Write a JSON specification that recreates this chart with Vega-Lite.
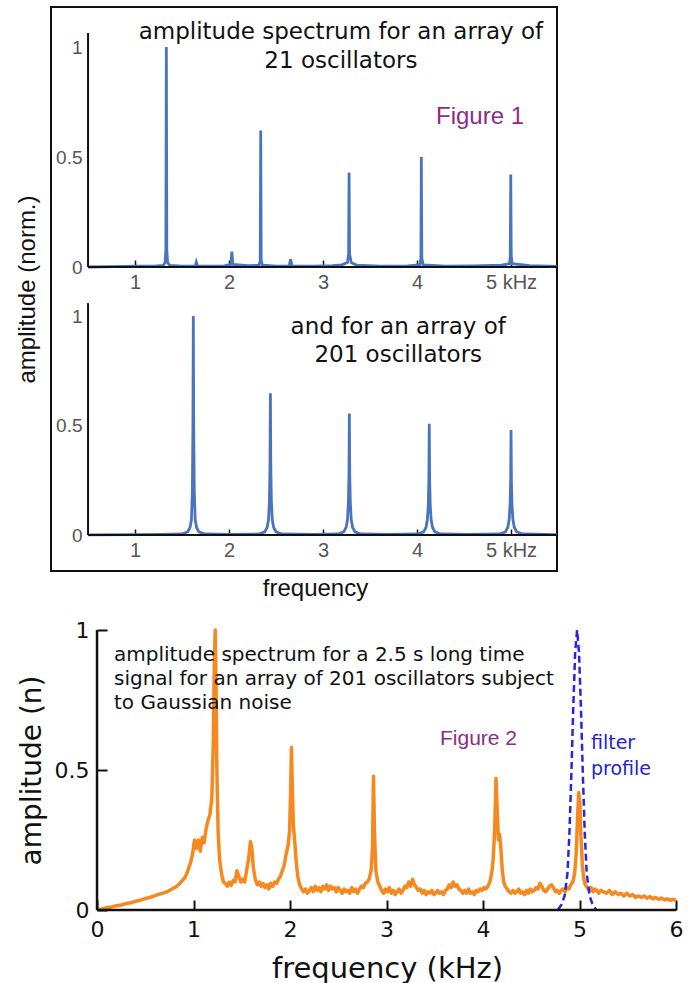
{
"$schema": "https://vega.github.io/schema/vega-lite/v6.json",
"background": "white",
"padding": {"left": 14, "top": 6, "right": 5, "bottom": 5},
"spacing": 18,
"config": {"view": {"stroke": null}, "axis": {"grid": false, "format": ".1~f"}},
"datasets": {
"p1": [{"f":0.5,"a":0.0},{"f":0.9,"a":0.003},{"f":0.99,"a":0.004},{"f":1.2,"a":0.004},{"f":1.3,"a":0.007},{"f":1.32,"a":0.02},{"f":1.328,"a":0.08},{"f":1.333,"a":1.0},{"f":1.338,"a":0.08},{"f":1.346,"a":0.02},{"f":1.37,"a":0.007},{"f":1.5,"a":0.004},{"f":1.64,"a":0.004},{"f":1.652,"a":0.022},{"f":1.664,"a":0.004},{"f":1.95,"a":0.005},{"f":2.02,"a":0.012},{"f":2.03,"a":0.07},{"f":2.04,"a":0.012},{"f":2.2,"a":0.006},{"f":2.32,"a":0.008},{"f":2.332,"a":0.03},{"f":2.337,"a":0.62},{"f":2.342,"a":0.03},{"f":2.355,"a":0.008},{"f":2.5,"a":0.004},{"f":2.64,"a":0.005},{"f":2.655,"a":0.035},{"f":2.67,"a":0.005},{"f":2.9,"a":0.004},{"f":3.1,"a":0.006},{"f":3.2,"a":0.01},{"f":3.26,"a":0.02},{"f":3.272,"a":0.06},{"f":3.277,"a":0.43},{"f":3.282,"a":0.06},{"f":3.3,"a":0.02},{"f":3.36,"a":0.008},{"f":3.6,"a":0.004},{"f":3.9,"a":0.005},{"f":4.03,"a":0.01},{"f":4.041,"a":0.04},{"f":4.046,"a":0.5},{"f":4.051,"a":0.04},{"f":4.065,"a":0.01},{"f":4.3,"a":0.004},{"f":4.6,"a":0.005},{"f":4.9,"a":0.008},{"f":4.985,"a":0.015},{"f":4.992,"a":0.05},{"f":4.997,"a":0.42},{"f":5.002,"a":0.05},{"f":5.012,"a":0.015},{"f":5.2,"a":0.006},{"f":5.489,"a":0.003}],
"p2": [{"f":0.5,"a":0.001},{"f":1.0,"a":0.002},{"f":1.3,"a":0.003},{"f":1.5,"a":0.005},{"f":1.56,"a":0.015},{"f":1.585,"a":0.035},{"f":1.6,"a":0.07},{"f":1.61,"a":0.2},{"f":1.616,"a":0.5},{"f":1.62,"a":1.0},{"f":1.624,"a":0.5},{"f":1.63,"a":0.2},{"f":1.64,"a":0.07},{"f":1.655,"a":0.035},{"f":1.68,"a":0.015},{"f":1.74,"a":0.005},{"f":2.0,"a":0.003},{"f":2.32,"a":0.005},{"f":2.38,"a":0.015},{"f":2.405,"a":0.035},{"f":2.42,"a":0.07},{"f":2.43,"a":0.16},{"f":2.436,"a":0.33},{"f":2.44,"a":0.647},{"f":2.444,"a":0.33},{"f":2.45,"a":0.16},{"f":2.46,"a":0.07},{"f":2.475,"a":0.035},{"f":2.5,"a":0.015},{"f":2.56,"a":0.005},{"f":2.9,"a":0.003},{"f":3.16,"a":0.005},{"f":3.22,"a":0.015},{"f":3.245,"a":0.035},{"f":3.26,"a":0.07},{"f":3.27,"a":0.15},{"f":3.276,"a":0.28},{"f":3.28,"a":0.555},{"f":3.284,"a":0.28},{"f":3.29,"a":0.15},{"f":3.3,"a":0.07},{"f":3.315,"a":0.035},{"f":3.34,"a":0.015},{"f":3.4,"a":0.005},{"f":3.7,"a":0.003},{"f":4.01,"a":0.005},{"f":4.07,"a":0.015},{"f":4.095,"a":0.035},{"f":4.11,"a":0.07},{"f":4.12,"a":0.14},{"f":4.126,"a":0.26},{"f":4.13,"a":0.508},{"f":4.134,"a":0.26},{"f":4.14,"a":0.14},{"f":4.15,"a":0.07},{"f":4.165,"a":0.035},{"f":4.19,"a":0.015},{"f":4.25,"a":0.005},{"f":4.55,"a":0.003},{"f":4.88,"a":0.005},{"f":4.94,"a":0.015},{"f":4.965,"a":0.035},{"f":4.98,"a":0.07},{"f":4.99,"a":0.14},{"f":4.996,"a":0.25},{"f":5.0,"a":0.48},{"f":5.004,"a":0.25},{"f":5.01,"a":0.14},{"f":5.02,"a":0.07},{"f":5.035,"a":0.035},{"f":5.06,"a":0.015},{"f":5.12,"a":0.005},{"f":5.489,"a":0.002}],
"spec": [{"f":0,"a":0.002},{"f":0.05,"a":0.004},{"f":0.1,"a":0.008},{"f":0.15,"a":0.011},{"f":0.2,"a":0.015},{"f":0.25,"a":0.018},{"f":0.3,"a":0.023},{"f":0.35,"a":0.026},{"f":0.4,"a":0.031},{"f":0.45,"a":0.035},{"f":0.5,"a":0.041},{"f":0.55,"a":0.045},{"f":0.6,"a":0.051},{"f":0.63,"a":0.055},{"f":0.66,"a":0.058},{"f":0.7,"a":0.062},{"f":0.73,"a":0.066},{"f":0.76,"a":0.071},{"f":0.79,"a":0.078},{"f":0.82,"a":0.083},{"f":0.85,"a":0.092},{"f":0.87,"a":0.1},{"f":0.89,"a":0.108},{"f":0.91,"a":0.115},{"f":0.93,"a":0.13},{"f":0.95,"a":0.15},{"f":0.97,"a":0.17},{"f":0.99,"a":0.2},{"f":1.01,"a":0.25},{"f":1.03,"a":0.22},{"f":1.05,"a":0.25},{"f":1.07,"a":0.21},{"f":1.09,"a":0.26},{"f":1.11,"a":0.24},{"f":1.13,"a":0.29},{"f":1.15,"a":0.32},{"f":1.17,"a":0.34},{"f":1.19,"a":0.4},{"f":1.205,"a":0.6},{"f":1.215,"a":0.88},{"f":1.225,"a":1.0},{"f":1.233,"a":0.82},{"f":1.242,"a":0.5},{"f":1.255,"a":0.28},{"f":1.27,"a":0.18},{"f":1.29,"a":0.13},{"f":1.31,"a":0.1},{"f":1.33,"a":0.095},{"f":1.35,"a":0.085},{"f":1.37,"a":0.1},{"f":1.39,"a":0.088},{"f":1.41,"a":0.105},{"f":1.43,"a":0.1},{"f":1.45,"a":0.14},{"f":1.47,"a":0.12},{"f":1.49,"a":0.1},{"f":1.51,"a":0.11},{"f":1.53,"a":0.1},{"f":1.55,"a":0.14},{"f":1.57,"a":0.18},{"f":1.59,"a":0.245},{"f":1.605,"a":0.22},{"f":1.62,"a":0.15},{"f":1.64,"a":0.11},{"f":1.66,"a":0.09},{"f":1.68,"a":0.1},{"f":1.7,"a":0.085},{"f":1.72,"a":0.095},{"f":1.74,"a":0.08},{"f":1.76,"a":0.09},{"f":1.78,"a":0.075},{"f":1.8,"a":0.095},{"f":1.82,"a":0.085},{"f":1.84,"a":0.1},{"f":1.86,"a":0.095},{"f":1.88,"a":0.11},{"f":1.9,"a":0.12},{"f":1.92,"a":0.14},{"f":1.94,"a":0.16},{"f":1.96,"a":0.2},{"f":1.98,"a":0.23},{"f":1.995,"a":0.28},{"f":2.005,"a":0.4},{"f":2.015,"a":0.58},{"f":2.025,"a":0.42},{"f":2.035,"a":0.3},{"f":2.05,"a":0.24},{"f":2.065,"a":0.17},{"f":2.08,"a":0.12},{"f":2.1,"a":0.09},{"f":2.12,"a":0.075},{"f":2.14,"a":0.065},{"f":2.16,"a":0.075},{"f":2.18,"a":0.06},{"f":2.2,"a":0.07},{"f":2.22,"a":0.08},{"f":2.24,"a":0.065},{"f":2.26,"a":0.085},{"f":2.28,"a":0.07},{"f":2.3,"a":0.08},{"f":2.32,"a":0.065},{"f":2.34,"a":0.085},{"f":2.36,"a":0.075},{"f":2.38,"a":0.09},{"f":2.4,"a":0.07},{"f":2.42,"a":0.085},{"f":2.44,"a":0.075},{"f":2.46,"a":0.08},{"f":2.48,"a":0.065},{"f":2.5,"a":0.08},{"f":2.52,"a":0.07},{"f":2.54,"a":0.06},{"f":2.56,"a":0.075},{"f":2.58,"a":0.065},{"f":2.6,"a":0.07},{"f":2.62,"a":0.06},{"f":2.64,"a":0.08},{"f":2.66,"a":0.065},{"f":2.68,"a":0.075},{"f":2.7,"a":0.06},{"f":2.72,"a":0.075},{"f":2.74,"a":0.085},{"f":2.76,"a":0.08},{"f":2.78,"a":0.095},{"f":2.8,"a":0.1},{"f":2.82,"a":0.11},{"f":2.84,"a":0.14},{"f":2.855,"a":0.22},{"f":2.865,"a":0.478},{"f":2.875,"a":0.28},{"f":2.89,"a":0.14},{"f":2.91,"a":0.1},{"f":2.93,"a":0.085},{"f":2.95,"a":0.07},{"f":2.97,"a":0.06},{"f":2.99,"a":0.075},{"f":3.01,"a":0.065},{"f":3.03,"a":0.08},{"f":3.05,"a":0.06},{"f":3.07,"a":0.07},{"f":3.09,"a":0.055},{"f":3.11,"a":0.065},{"f":3.13,"a":0.075},{"f":3.15,"a":0.06},{"f":3.17,"a":0.07},{"f":3.19,"a":0.085},{"f":3.21,"a":0.08},{"f":3.23,"a":0.1},{"f":3.25,"a":0.085},{"f":3.27,"a":0.11},{"f":3.29,"a":0.09},{"f":3.31,"a":0.08},{"f":3.33,"a":0.07},{"f":3.35,"a":0.075},{"f":3.37,"a":0.06},{"f":3.39,"a":0.07},{"f":3.41,"a":0.055},{"f":3.43,"a":0.065},{"f":3.45,"a":0.06},{"f":3.47,"a":0.07},{"f":3.49,"a":0.055},{"f":3.51,"a":0.06},{"f":3.53,"a":0.07},{"f":3.55,"a":0.06},{"f":3.57,"a":0.065},{"f":3.59,"a":0.055},{"f":3.61,"a":0.07},{"f":3.63,"a":0.075},{"f":3.65,"a":0.09},{"f":3.67,"a":0.08},{"f":3.69,"a":0.1},{"f":3.71,"a":0.085},{"f":3.73,"a":0.09},{"f":3.75,"a":0.075},{"f":3.77,"a":0.07},{"f":3.79,"a":0.06},{"f":3.81,"a":0.07},{"f":3.83,"a":0.06},{"f":3.85,"a":0.075},{"f":3.87,"a":0.06},{"f":3.89,"a":0.065},{"f":3.91,"a":0.055},{"f":3.93,"a":0.07},{"f":3.95,"a":0.065},{"f":3.97,"a":0.075},{"f":3.99,"a":0.07},{"f":4.01,"a":0.08},{"f":4.03,"a":0.075},{"f":4.05,"a":0.085},{"f":4.07,"a":0.1},{"f":4.09,"a":0.13},{"f":4.105,"a":0.18},{"f":4.12,"a":0.28},{"f":4.135,"a":0.47},{"f":4.148,"a":0.35},{"f":4.16,"a":0.25},{"f":4.172,"a":0.27},{"f":4.185,"a":0.22},{"f":4.2,"a":0.14},{"f":4.215,"a":0.1},{"f":4.23,"a":0.085},{"f":4.25,"a":0.075},{"f":4.27,"a":0.065},{"f":4.29,"a":0.06},{"f":4.31,"a":0.07},{"f":4.33,"a":0.06},{"f":4.35,"a":0.065},{"f":4.37,"a":0.075},{"f":4.39,"a":0.06},{"f":4.41,"a":0.065},{"f":4.43,"a":0.055},{"f":4.45,"a":0.07},{"f":4.47,"a":0.06},{"f":4.49,"a":0.075},{"f":4.51,"a":0.065},{"f":4.53,"a":0.07},{"f":4.55,"a":0.08},{"f":4.57,"a":0.075},{"f":4.59,"a":0.095},{"f":4.61,"a":0.085},{"f":4.63,"a":0.07},{"f":4.65,"a":0.065},{"f":4.67,"a":0.075},{"f":4.69,"a":0.085},{"f":4.71,"a":0.09},{"f":4.73,"a":0.08},{"f":4.75,"a":0.065},{"f":4.77,"a":0.07},{"f":4.79,"a":0.06},{"f":4.81,"a":0.07},{"f":4.83,"a":0.075},{"f":4.85,"a":0.065},{"f":4.87,"a":0.08},{"f":4.89,"a":0.075},{"f":4.91,"a":0.09},{"f":4.93,"a":0.1},{"f":4.95,"a":0.13},{"f":4.965,"a":0.2},{"f":4.98,"a":0.33},{"f":4.992,"a":0.42},{"f":5.004,"a":0.38},{"f":5.015,"a":0.26},{"f":5.03,"a":0.16},{"f":5.045,"a":0.11},{"f":5.06,"a":0.09},{"f":5.08,"a":0.08},{"f":5.1,"a":0.07},{"f":5.12,"a":0.08},{"f":5.14,"a":0.065},{"f":5.16,"a":0.075},{"f":5.18,"a":0.07},{"f":5.2,"a":0.06},{"f":5.22,"a":0.07},{"f":5.25,"a":0.065},{"f":5.28,"a":0.06},{"f":5.31,"a":0.07},{"f":5.34,"a":0.055},{"f":5.37,"a":0.065},{"f":5.4,"a":0.055},{"f":5.43,"a":0.06},{"f":5.46,"a":0.05},{"f":5.49,"a":0.06},{"f":5.52,"a":0.05},{"f":5.55,"a":0.055},{"f":5.58,"a":0.045},{"f":5.61,"a":0.05},{"f":5.64,"a":0.045},{"f":5.67,"a":0.05},{"f":5.7,"a":0.042},{"f":5.73,"a":0.048},{"f":5.76,"a":0.04},{"f":5.79,"a":0.045},{"f":5.82,"a":0.038},{"f":5.85,"a":0.043},{"f":5.88,"a":0.036},{"f":5.91,"a":0.04},{"f":5.94,"a":0.035},{"f":5.97,"a":0.038},{"f":6.0,"a":0.034}],
"filt": [{"f":4.775,"a":0.0},{"f":4.815,"a":0.02},{"f":4.845,"a":0.05},{"f":4.875,"a":0.13},{"f":4.895,"a":0.27},{"f":4.915,"a":0.48},{"f":4.935,"a":0.72},{"f":4.955,"a":0.92},{"f":4.975,"a":1.0},{"f":4.995,"a":0.92},{"f":5.015,"a":0.72},{"f":5.035,"a":0.48},{"f":5.055,"a":0.27},{"f":5.075,"a":0.13},{"f":5.105,"a":0.05},{"f":5.135,"a":0.02},{"f":5.175,"a":0.0}]
},
"vconcat": [
{
"width": 506, "height": 564,
"view": {"stroke": "#111", "strokeWidth": 2},
"layer": [
 {
 "layer": [
  {"data": {"name": "p1"},
   "mark": {"type": "line", "color": "#4a74bb", "strokeWidth": 2.8},
   "encoding": {
    "x": {"field": "f", "type": "quantitative", "scale": {"domain": [0.106, 5.489], "nice": false, "zero": false},
     "axis": {"orient": "bottom", "offset": -304, "values": [1,2,3,4,5], "format": ".1~f", "labelExpr": "datum.value == 5 ? '5 kHz' : datum.label", "domain": false, "tickSize": -7, "tickColor": "#111", "tickWidth": 1.5, "labelPadding": 12, "labelFont": "Liberation Sans", "labelFontSize": 20, "labelColor": "#555", "labelFlush": false, "labelOverlap": false, "title": null}},
    "y": {"field": "a", "type": "quantitative", "scale": {"domain": [-1.382, 1.182], "nice": false, "zero": false},
     "axis": {"orient": "left", "offset": -37, "values": [0, 0.5, 1], "format": ".1~f", "domain": false, "ticks": false, "labelPadding": 6, "labelFont": "Liberation Sans", "labelFontSize": 19, "labelColor": "#555", "labelFlush": false, "labelOverlap": false, "title": "amplitude (norm.)", "titleFont": "Liberation Sans", "titleFontSize": 24, "titleFontWeight": "normal", "titleColor": "#111", "titleX": -61, "titleBaseline": "middle"}}
   }},
  {"data": {"values": [{}]}, "mark": {"type": "rule", "color": "#111", "strokeWidth": 2},
   "encoding": {"x": {"datum": 0.5}, "y": {"datum": 0}, "y2": {"datum": 1.064}}},
  {"data": {"values": [{}]}, "mark": {"type": "rule", "color": "#111", "strokeWidth": 2},
   "encoding": {"x": {"datum": 0.5}, "x2": {"datum": 5.489}, "y": {"datum": 0}}},
  {"data": {"values": [{}]}, "mark": {"type": "text", "text": ["amplitude spectrum for an array of", "21 oscillators"], "font": "DejaVu Sans", "fontSize": 23, "lineHeight": 29, "align": "center", "baseline": "top", "color": "#111"},
   "encoding": {"x": {"datum": 3.19}, "y": {"datum": 1.118}}},
  {"data": {"values": [{}]}, "mark": {"type": "text", "text": "Figure 1", "font": "Liberation Sans", "fontSize": 24, "align": "center", "baseline": "middle", "color": "#8b2c86"},
   "encoding": {"x": {"datum": 4.67}, "y": {"datum": 0.682}}}
 ]
 },
 {
 "layer": [
  {"data": {"name": "p2"},
   "mark": {"type": "line", "color": "#4a74bb", "strokeWidth": 2.8},
   "encoding": {
    "x": {"field": "f", "type": "quantitative", "scale": {"domain": [0.106, 5.489], "nice": false, "zero": false},
     "axis": {"orient": "bottom", "offset": -36, "values": [1,2,3,4,5], "format": ".1~f", "labelExpr": "datum.value == 5 ? '5 kHz' : datum.label", "domain": false, "tickSize": -6, "tickColor": "#111", "tickWidth": 1.5, "labelPadding": 11, "labelFont": "Liberation Sans", "labelFontSize": 20, "labelColor": "#555", "labelFlush": false, "labelOverlap": false, "title": "frequency", "titleFont": "Liberation Sans", "titleFontSize": 24, "titleFontWeight": "normal", "titleColor": "#111", "titleX": 264, "titleY": 53, "titleBaseline": "middle"}},
    "y": {"field": "a", "type": "quantitative", "scale": {"domain": [-0.164, 2.411], "nice": false, "zero": false},
     "axis": {"orient": "left", "offset": -37, "values": [0, 0.5, 1], "format": ".1~f", "domain": false, "ticks": false, "labelPadding": 6, "labelFont": "Liberation Sans", "labelFontSize": 19, "labelColor": "#555", "labelFlush": false, "labelOverlap": false, "title": null}}
   }},
  {"data": {"values": [{}]}, "mark": {"type": "rule", "color": "#111", "strokeWidth": 2},
   "encoding": {"x": {"datum": 0.5}, "y": {"datum": 0}, "y2": {"datum": 1.059}}},
  {"data": {"values": [{}]}, "mark": {"type": "rule", "color": "#111", "strokeWidth": 2},
   "encoding": {"x": {"datum": 0.5}, "x2": {"datum": 5.489}, "y": {"datum": 0}}},
  {"data": {"values": [{}]}, "mark": {"type": "text", "text": ["and for an array of", "201 oscillators"], "font": "DejaVu Sans", "fontSize": 23, "lineHeight": 28, "align": "center", "baseline": "top", "color": "#111"},
   "encoding": {"x": {"datum": 3.8}, "y": {"datum": 1.0}}}
 ]
 }
],
"resolve": {"scale": {"x": "independent", "y": "independent"}, "axis": {"x": "independent", "y": "independent"}}
},
{
"width": 625, "height": 280,
"view": {"stroke": null},
"layer": [
 {"data": {"name": "spec"},
  "mark": {"type": "line", "color": "#f5891f", "strokeWidth": 3.5, "strokeJoin": "round"},
  "encoding": {
   "x": {"field": "f", "type": "quantitative", "scale": {"domain": [-0.477, 6], "nice": false, "zero": false},
    "axis": {"values": [0,1,2,3,4,5,6], "format": ".1~f", "domain": false, "tickSize": -10, "tickWidth": 2, "tickColor": "#111", "labelPadding": 19, "labelFont": "DejaVu Sans", "labelFontSize": 22, "labelColor": "#111", "labelFlush": false, "labelOverlap": false, "title": "frequency (kHz)", "titleFont": "DejaVu Sans", "titleFontSize": 29, "titleFontWeight": "normal", "titleColor": "#111", "titleX": 336, "titleY": 58, "titleBaseline": "middle"}},
   "y": {"field": "a", "type": "quantitative", "scale": {"domain": [0, 1], "nice": false},
    "axis": {"offset": -46, "values": [0, 0.5, 1], "format": ".1~f", "domain": false, "tickSize": -10, "tickWidth": 2, "tickColor": "#111", "labelPadding": 18, "labelFont": "DejaVu Sans", "labelFontSize": 22, "labelColor": "#111", "labelFlush": false, "labelOverlap": false, "title": "amplitude (n)", "titleFont": "DejaVu Sans", "titleFontSize": 28, "titleFontWeight": "normal", "titleColor": "#111", "titleX": -65, "titleBaseline": "middle"}}
  }},
 {"data": {"name": "filt"},
  "mark": {"type": "line", "color": "#2626e0", "strokeWidth": 2.5, "strokeDash": [7, 4]},
  "encoding": {"x": {"field": "f", "type": "quantitative"}, "y": {"field": "a", "type": "quantitative"}}},
 {"data": {"values": [{}]}, "mark": {"type": "rule", "color": "#111", "strokeWidth": 2.5},
  "encoding": {"x": {"datum": 0}, "x2": {"datum": 6}, "y": {"datum": 0}}},
 {"data": {"values": [{}]}, "mark": {"type": "rule", "color": "#111", "strokeWidth": 2.5},
  "encoding": {"x": {"datum": 0}, "y": {"datum": 0}, "y2": {"datum": 1}}},
 {"data": {"values": [{}]}, "mark": {"type": "text", "text": ["amplitude spectrum for a 2.5 s long time", "signal for an array of 201 oscillators subject", "to Gaussian noise"], "font": "DejaVu Sans", "fontSize": 20, "lineHeight": 24, "align": "left", "baseline": "top", "color": "#111"},
  "encoding": {"x": {"datum": 0.176}, "y": {"datum": 0.946}}},
 {"data": {"values": [{}]}, "mark": {"type": "text", "text": "Figure 2", "font": "Liberation Sans", "fontSize": 21, "align": "center", "baseline": "middle", "color": "#8b2c86"},
  "encoding": {"x": {"datum": 3.953}, "y": {"datum": 0.611}}},
 {"data": {"values": [{}]}, "mark": {"type": "text", "text": ["filter", "profile"], "font": "DejaVu Sans", "fontSize": 19, "lineHeight": 26, "align": "left", "baseline": "top", "color": "#2323d9"},
  "encoding": {"x": {"datum": 5.119}, "y": {"datum": 0.629}}}
]
}
]
}
